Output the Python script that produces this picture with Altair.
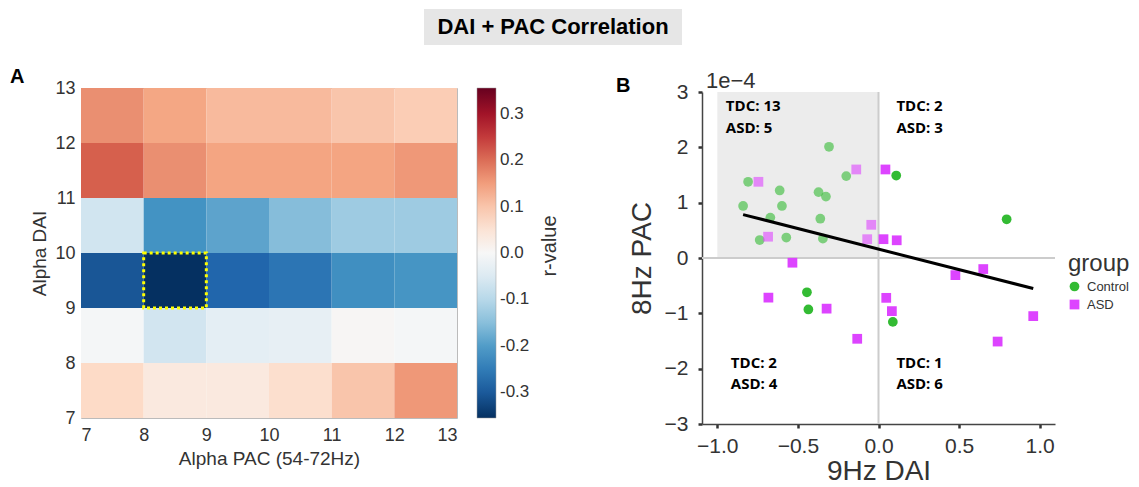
import altair as alt
import pandas as pd

# ---------------- Panel A: heatmap data ----------------
pac_lo = [7, 8, 9, 10, 11, 12]
dai_lo = [7, 8, 9, 10, 11, 12]
r_dai7 = [0.071, 0.035, 0.035, 0.060, 0.100, 0.155]
r_dai8 = [-0.005, -0.070, -0.035, -0.030, 0.005, -0.005]
r_dai9 = [-0.305, -0.355, -0.284, -0.260, -0.220, -0.210]
r_dai10 = [-0.071, -0.213, -0.190, -0.153, -0.128, -0.128]
r_dai11 = [0.213, 0.165, 0.142, 0.142, 0.142, 0.155]
r_dai12 = [0.165, 0.140, 0.114, 0.114, 0.100, 0.090]
r_rows = [r_dai7, r_dai8, r_dai9, r_dai10, r_dai11, r_dai12]
hl_pac = [8]
hl_dai = [9]
heat_ticks = [7, 8, 9, 10, 11, 12, 13]
cbar_ticks = [-0.3, -0.2, -0.1, 0, 0.1, 0.2, 0.3]
# RdBu_r colour stops for the colour bar (-0.355 .. 0.355)
cmap_stops = [-0.355, -0.284, -0.213, -0.142, -0.071, 0.0, 0.071, 0.142, 0.213, 0.284, 0.355]
cmap_colors = ["#053061", "#2166ac", "#4393c3", "#92c5de", "#d1e5f0", "#f7f7f7",
               "#fddbc7", "#f4a582", "#d6604d", "#b2182b", "#67001f"]

# ---------------- Panel B: scatter data ----------------
ctrl_dai = [-0.809, -0.840, -0.671, -0.737, -0.613, -0.599, -0.572, -0.372, -0.326,
            -0.307, -0.361, -0.345, -0.200, 0.110, 0.795, -0.444, -0.435, 0.089]
ctrl_pac = [1.377, 0.94, 0.73, 0.325, 1.22, 0.94, 0.37, 1.19, 1.11,
            2.01, 0.71, 0.35, 1.48, 1.49, 0.70, -0.62, -0.93, -1.155]
asd_dai = [-0.745, -0.685, -0.138, -0.045, -0.070, 0.043, 0.031, 0.113, -0.534,
           -0.683, -0.322, -0.132, 0.477, 0.650, 0.048, 0.083, 0.739, 0.960]
asd_pac = [1.377, 0.385, 1.60, 0.60, 0.34, 1.60, 0.34, 0.32, -0.085,
           -0.716, -0.915, -1.46, -0.31, -0.20, -0.72, -0.96, -1.51, -1.05]
groups = ["Control", "ASD"]
group_colors = ["#33bb33", "#dd44ff"]
quad_text = ["TDC: 13", "ASD: 5", "TDC: 2", "ASD: 3", "TDC: 2", "ASD: 4", "TDC: 1", "ASD: 6"]
quad_x = [-0.947, -0.947, 0.111, 0.111, -0.916, -0.916, 0.111, 0.111]
quad_y = [2.74, 2.35, 2.74, 2.35, -1.895, -2.27, -1.895, -2.27]
shade_x = [-1.0]; shade_x2 = [0.0]; shade_y = [0.0]; shade_y2 = [3.0]
x_dom = [-1.095, 1.095]
y_dom = [-3, 3]
sc_xticks = [-1.0, -0.5, 0.0, 0.5, 1.0]
sc_yticks = [-3, -2, -1, 0, 1, 2, 3]

FONT = "Liberation Sans"
TXT = "#333333"

# ---------------- build heatmap ----------------
heat_rows = []
for di, row in zip(dai_lo, r_rows):
    for pi, v in zip(pac_lo, row):
        heat_rows.append({"pac": pi, "pac2": pi + 1, "dai": di, "dai2": di + 1, "r": v})
heat_df = pd.DataFrame(heat_rows)
hl_df = pd.DataFrame({"pac": hl_pac, "pac2": [p + 1 for p in hl_pac],
                      "dai": hl_dai, "dai2": [d + 1 for d in hl_dai]})

hx = alt.Scale(domain=[7, 13], nice=False, zero=False)
hy = alt.Scale(domain=[7, 13], nice=False, zero=False)
hx_axis = alt.Axis(values=heat_ticks, format="d", ticks=False, domain=False, grid=False,
                   labelFontSize=18, labelPadding=8, titleFontSize=19, titleFontWeight="normal",
                   labelColor=TXT, titleColor=TXT, titlePadding=5, labelFont=FONT, titleFont=FONT)
hy_axis = alt.Axis(values=heat_ticks, format="d", ticks=False, domain=False, grid=False,
                   labelFontSize=18, labelPadding=6, titleFontSize=19, titleFontWeight="normal",
                   labelColor=TXT, titleColor=TXT, titlePadding=5, labelFont=FONT, titleFont=FONT)

color_scale = alt.Scale(domain=cmap_stops, range=cmap_colors, interpolate="rgb")

heat = alt.Chart(heat_df).mark_rect().encode(
    x=alt.X("pac:Q", scale=hx, axis=hx_axis, title="Alpha PAC (54-72Hz)"),
    x2="pac2:Q",
    y=alt.Y("dai:Q", scale=hy, axis=hy_axis, title="Alpha DAI"),
    y2="dai2:Q",
    color=alt.Color("r:Q", scale=color_scale, title=None,
                    legend=alt.Legend(values=cbar_ticks, direction="vertical", orient="right",
                                      offset=20, gradientLength=330, gradientThickness=19,
                                      gradientStrokeColor="#999999", gradientStrokeWidth=0.5,
                                      labelFontSize=17, labelColor=TXT, labelFont=FONT,
                                      labelOverlap=False, labelOffset=4,
                                      labelExpr="replace(datum.label, '\u2212', '-')")),
)

hl = alt.Chart(hl_df).mark_rect(filled=False, stroke="#ffff00", strokeWidth=3,
                                 strokeDash=[3, 3]).encode(
    x=alt.X("pac:Q", scale=hx), x2="pac2:Q",
    y=alt.Y("dai:Q", scale=hy), y2="dai2:Q",
)

label_a = alt.Chart(pd.DataFrame({"t": ["A"]})).mark_text(
    font=FONT, fontSize=20, fontWeight="bold", align="left", baseline="alphabetic", color="black"
).encode(x=alt.value(-71), y=alt.value(-5), text="t:N")

rvalue = alt.Chart(pd.DataFrame({"t": ["r-value"]})).mark_text(
    font=FONT, fontSize=20, angle=270, align="center", baseline="middle", color=TXT
).encode(x=alt.value(469), y=alt.value(158), text="t:N")

panel_a = alt.layer(heat, hl, label_a, rvalue).properties(
    width=376, height=330, view=alt.ViewBackground(stroke="#bbbbbb", strokeWidth=1)
)

# ---------------- build scatter ----------------
sc_df = pd.DataFrame({
    "dai": ctrl_dai + asd_dai,
    "pac": ctrl_pac + asd_pac,
    "group": ["Control"] * len(ctrl_dai) + ["ASD"] * len(asd_dai),
})
shade_df = pd.DataFrame({"x": shade_x, "x2": shade_x2, "y": shade_y, "y2": shade_y2})
vline_df = pd.DataFrame({"x": [0.0], "y": [y_dom[0]], "y2": [y_dom[1]]})
hline_df = pd.DataFrame({"y": [0.0], "x": [x_dom[0]], "x2": [x_dom[1]]})
quad_df = pd.DataFrame({"x": quad_x, "y": quad_y, "t": quad_text})

SC_H = 336
sx = alt.Scale(domain=x_dom, nice=False, zero=False)
sy = alt.Scale(domain=y_dom, nice=False, zero=False, range=[SC_H, 4])
sx_axis = alt.Axis(values=sc_xticks, format=".1f", grid=False, domainColor="#444444",
                   domainWidth=1.5, tickColor="#333333", tickWidth=2.5, tickSize=4,
                   labelFontSize=21, labelColor=TXT, labelPadding=7, labelFont=FONT,
                   titleFontSize=28, titleFontWeight="normal", titleColor=TXT, titleFont=FONT,
                   titlePadding=1)
sy_axis = alt.Axis(values=sc_yticks, format="d", grid=False, domainColor="#444444",
                   domainWidth=1.5, tickColor="#333333", tickWidth=2.5, tickSize=4,
                   labelFontSize=21, labelColor=TXT, labelPadding=10, labelFont=FONT,
                   titleFontSize=28, titleFontWeight="normal", titleColor=TXT, titleFont=FONT,
                   titlePadding=8)

def X(field):
    return alt.X(field, type="quantitative", scale=sx, axis=sx_axis, title="9Hz DAI")

def Y(field):
    return alt.Y(field, type="quantitative", scale=sy, axis=sy_axis, title="8Hz PAC")

shade = alt.Chart(shade_df).mark_rect(color="#ececec").encode(
    x=X("x"), x2="x2:Q", y=Y("y"), y2="y2:Q")
vline = alt.Chart(vline_df).mark_rule(color="#cccccc", strokeWidth=2).encode(
    x=X("x"), y=Y("y"), y2="y2:Q")
hline = alt.Chart(hline_df).mark_rule(color="#cccccc", strokeWidth=2).encode(
    y=Y("y"), x=X("x"), x2="x2:Q")

grp_legend = alt.Legend(orient="none", legendX=366, legendY=164, title="group",
                        titleFontSize=24, titleFontWeight="normal", titleColor=TXT,
                        titleFont=FONT, labelFontSize=13, labelColor=TXT, labelFont=FONT,
                        symbolSize=95, rowPadding=4, titlePadding=4, labelOffset=6)

points = alt.Chart(sc_df).mark_point(filled=True, size=95, strokeWidth=0).encode(
    x=X("dai"), y=Y("pac"),
    color=alt.Color("group:N", scale=alt.Scale(domain=groups, range=group_colors),
                    legend=grp_legend, title="group"),
    shape=alt.Shape("group:N", scale=alt.Scale(domain=groups, range=["circle", "square"]),
                    legend=grp_legend, title="group"),
    opacity=alt.condition("datum.dai < 0 && datum.pac > 0", alt.value(0.6), alt.value(1.0)),
)

fit = alt.Chart(sc_df).transform_regression("dai", "pac").mark_line(
    color="black", strokeWidth=3).encode(x=X("dai"), y=Y("pac"))

quad = alt.Chart(quad_df).mark_text(font="Open Sans", fontSize=15, fontWeight="bold",
                                    align="left", baseline="middle", color="black").encode(
    x=X("x"), y=Y("y"), text="t:N")

label_b = alt.Chart(pd.DataFrame({"t": ["B"]})).mark_text(
    font=FONT, fontSize=20, fontWeight="bold", align="left", baseline="alphabetic", color="black"
).encode(x=alt.value(-86), y=alt.value(4), text="t:N")

exp_lbl = alt.Chart(pd.DataFrame({"t": ["1e\u22124"]})).mark_text(
    font=FONT, fontSize=22, align="left", baseline="alphabetic", color=TXT
).encode(x=alt.value(4), y=alt.value(0), text="t:N")

panel_b = alt.layer(shade, vline, hline, points, fit, quad, label_b, exp_lbl).properties(
    width=353, height=SC_H
)

# ---------------- title ----------------
title_df = pd.DataFrame({"t": ["DAI + PAC Correlation"]})
tbox = alt.Chart(title_df).mark_rect(color="#e6e6e6").encode(
    x=alt.value(343), x2=alt.value(601), y=alt.value(0), y2=alt.value(36))
ttext = alt.Chart(title_df).mark_text(font=FONT, fontSize=22, fontWeight="bold",
                                      color="black", align="center", baseline="middle").encode(
    x=alt.value(472), y=alt.value(18), text="t:N")
title_chart = alt.layer(tbox, ttext).properties(width=600, height=36)

row = alt.hconcat(panel_a, panel_b, spacing=54).resolve_scale(
    color="independent", shape="independent")

chart = alt.vconcat(title_chart, row, spacing=20).properties(
    padding={"left": 1, "top": 0, "right": 0, "bottom": 0}
).configure(font=FONT).configure_view(stroke="transparent")

chart.save("out.html", embed_options={"renderer": "svg", "actions": False})
